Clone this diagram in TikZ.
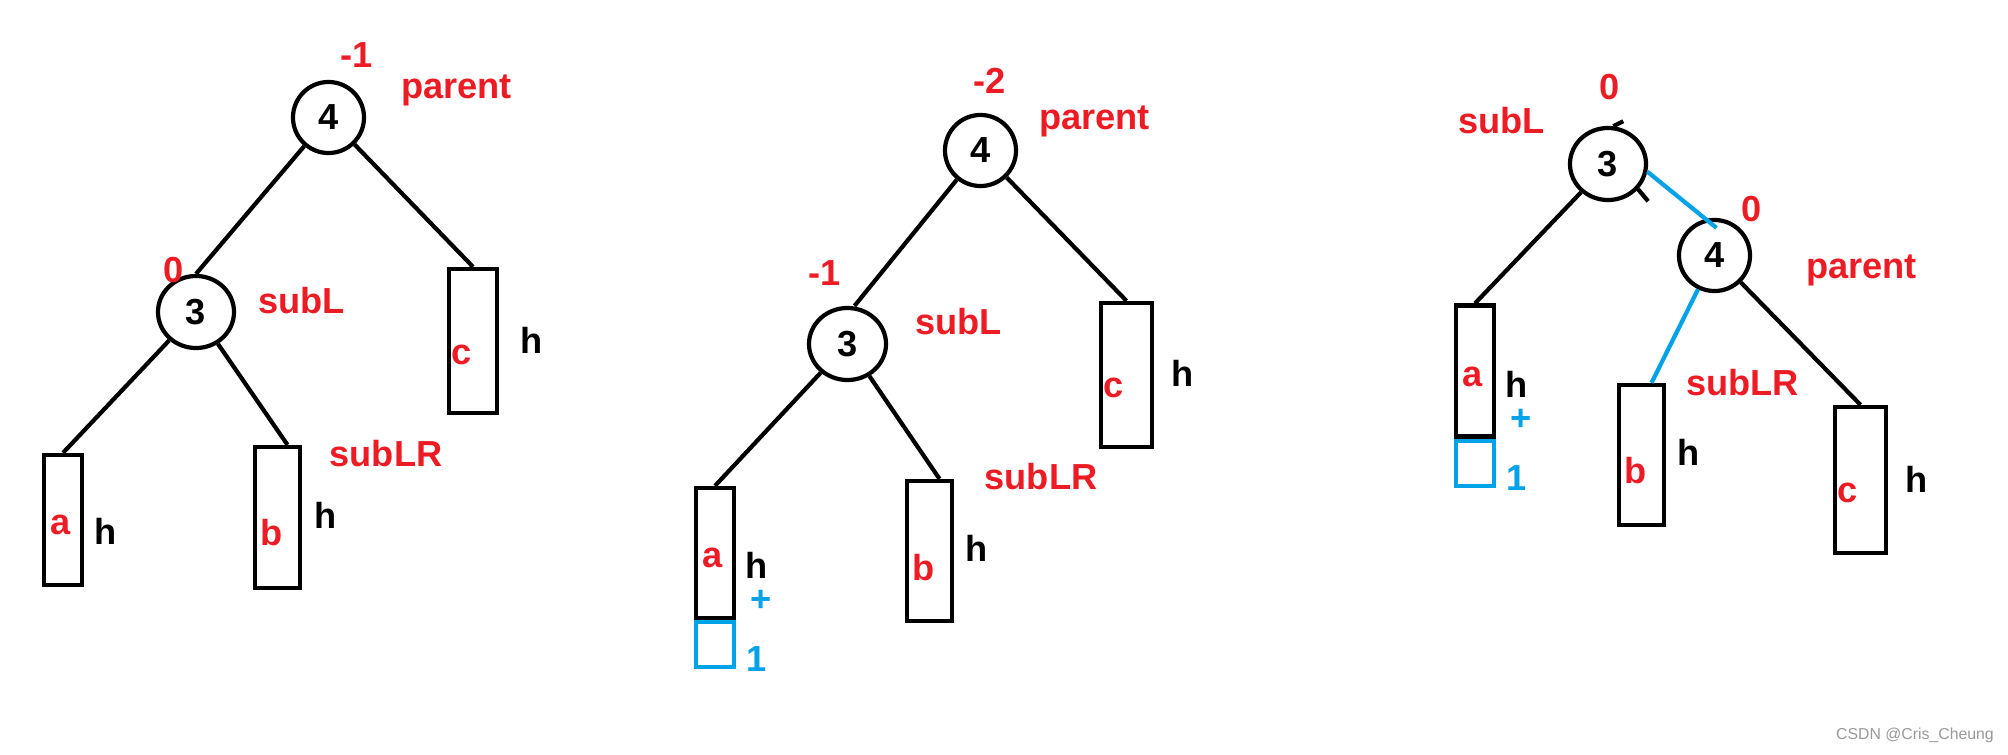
\documentclass[tikz,border=0pt]{standalone}
\usepackage{xcolor}
\usepackage{tikz}
\usepackage{fontspec}
\setmainfont{Liberation Sans}
\usetikzlibrary{shapes.geometric,positioning,calc}

\definecolor{paintred}{RGB}{237,28,36}
\definecolor{paintblue}{RGB}{0,162,232}

\begin{document}
\begin{tikzpicture}[x=0.01cm, y=-0.01cm,
                    every node/.style={font=\fontsize{10.3}{12}\selectfont\bfseries},
                    key/.style={ellipse, draw, line width=1.2pt, inner sep=0pt},
                    subtree/.style={rectangle, draw, line width=1.2pt, inner sep=0pt},
                    extra/.style={rectangle, draw=paintblue, line width=1.2pt, inner sep=0pt,
                                  minimum width=0.38cm},
                    tag/.style={text=paintred},
                    hgt/.style={text=black},
                    added/.style={text=paintblue},
                    link/.style={line width=1.2pt},
                    watermark/.style={font=\fontsize{4.5}{5}\selectfont, text=black!40}]
    %\draw[help lines] (0,0) grid[step=100] (2008,754);
    \fill[white, use as bounding box] (0,0) rectangle (2008,754);

   % first tree
   \node[key, minimum width=0.71cm, minimum height=0.71cm] (parent1) at (328.5, 117.5) {4};
   \node[key, minimum width=0.76cm, minimum height=0.72cm] (subl1) at (196, 312) {3};
   \node[subtree, minimum width=0.38cm, minimum height=1.30cm] (a1) at (63, 520) {};
   \node[subtree, minimum width=0.45cm, minimum height=1.41cm] (b1) at (277.5, 517.5) {};
   \node[subtree, minimum width=0.48cm, minimum height=1.44cm] (c1) at (473, 341) {};
   \node[tag] (a1_txt) at (61, 525) {a};
   \node[tag] (b1_txt) at (272, 533) {b};
   \node[tag] (c1_txt) at (462, 355) {c};

   \node[tag] (bf_parent1) at (357, 55) {-1};
   \node[tag] (name_parent1) at (456.5, 90) {parent};
   \node[tag] (bf_subl1) at (174, 270) {0};
   \node[tag] (name_subl1) at (301.5, 301) {subL};
   \node[tag] (name_sublr1) at (386, 453.5) {subLR};
   \node[hgt] (h_a1) at (105.5, 531.5) {h};
   \node[hgt] (h_b1) at (325.7, 515) {h};
   \node[hgt] (h_c1) at (532, 340) {h};

   % second tree
   \node[key, minimum width=0.71cm, minimum height=0.71cm] (parent2) at (980.5, 150.5) {4};
   \node[key, minimum width=0.77cm, minimum height=0.72cm] (subl2) at (847.5, 344) {3};
   \node[subtree, minimum width=0.38cm, minimum height=1.30cm] (a2) at (715, 553) {};
   \node[extra, minimum height=0.45cm, below=0pt of a2] (one2) {};
   \node[subtree, minimum width=0.45cm, minimum height=1.40cm] (b2) at (929.5, 551) {};
   \node[subtree, minimum width=0.51cm, minimum height=1.44cm] (c2) at (1126.5, 375) {};
   \node[tag] (a2_txt) at (712.7, 557.7) {a};
   \node[tag] (b2_txt) at (924, 568) {b};
   \node[tag] (c2_txt) at (1114, 388) {c};

   \node[tag] (bf_parent2) at (989.5, 81) {-2};
   \node[tag] (name_parent2) at (1094.5, 121.5) {parent};
   \node[tag] (bf_subl2) at (824.7, 273.3) {-1};
   \node[tag] (name_subl2) at (958.5, 321.5) {subL};
   \node[tag] (name_sublr2) at (1041, 477) {subLR};
   \node[hgt] (h_a2) at (757, 565) {h};
   \node[hgt] (h_b2) at (977, 548) {h};
   \node[hgt] (h_c2) at (1183, 373) {h};
   \node[added] (plus2) at (760.7, 600.7) {+};
   \node[added] (n_one2) at (756.7, 658.8) {1};

   % third tree, after the rotation
   \node[key, minimum width=0.76cm, minimum height=0.72cm] (subl3) at (1608, 164) {3};
   \node[key, minimum width=0.71cm, minimum height=0.71cm] (parent3) at (1714.5, 255.5) {4};
   \node[subtree, minimum width=0.38cm, minimum height=1.31cm] (a3) at (1475, 371) {};
   \node[extra, minimum height=0.45cm, below=0pt of a3] (one3) {};
   \node[subtree, minimum width=0.45cm, minimum height=1.40cm] (b3) at (1641.5, 455) {};
   \node[subtree, minimum width=0.51cm, minimum height=1.46cm] (c3) at (1860.5, 480) {};
   \node[tag] (a3_txt) at (1473, 377) {a};
   \node[tag] (b3_txt) at (1636, 470.7) {b};
   \node[tag] (c3_txt) at (1848, 493) {c};

   \node[tag] (bf_subl3) at (1610, 87) {0};
   \node[tag] (name_subl3) at (1501.5, 121) {subL};
   \node[tag] (bf_parent3) at (1751.7, 209.3) {0};
   \node[tag] (name_parent3) at (1861.5, 270) {parent};
   \node[tag] (name_sublr3) at (1742.5, 382.5) {subLR};
   \node[hgt] (h_a3) at (1517, 384) {h};
   \node[hgt] (h_b3) at (1689, 452.7) {h};
   \node[hgt] (h_c3) at (1917, 479) {h};
   \node[added] (plus3) at (1520.7, 420) {+};
   \node[added] (n_one3) at (1517, 477.8) {1};

   \node[watermark] (credit) at (1915, 735) {CSDN @Cris\_Cheung};

   % Define links
   \path[link]
    (parent1) edge (subl1.north)
    (parent1) edge (c1.north)
    (subl1) edge (a1.north)
    (subl1) edge ($(b1.north)+(10,0)$)
    (parent2) edge ($(subl2.north)+(7,0)$)
    (parent2) edge (c2.north)
    (subl2) edge (a2.north)
    (subl2) edge ($(b2.north)+(10,0)$)
    (subl3) edge (a3.north)
    (parent3) edge (c3.north);
   \path[link, paintblue]
    (subl3.-11) edge ($(parent3.north)+(2,10)$)
    (parent3.-116) edge ($(b3.north)+(10,0)$);
   % leftovers of the old links
   \draw[link] (subl3.82) -- ++(10,-5);
   \draw[link] (subl3.-40) -- ++(10,12);
\end{tikzpicture}
\end{document}
